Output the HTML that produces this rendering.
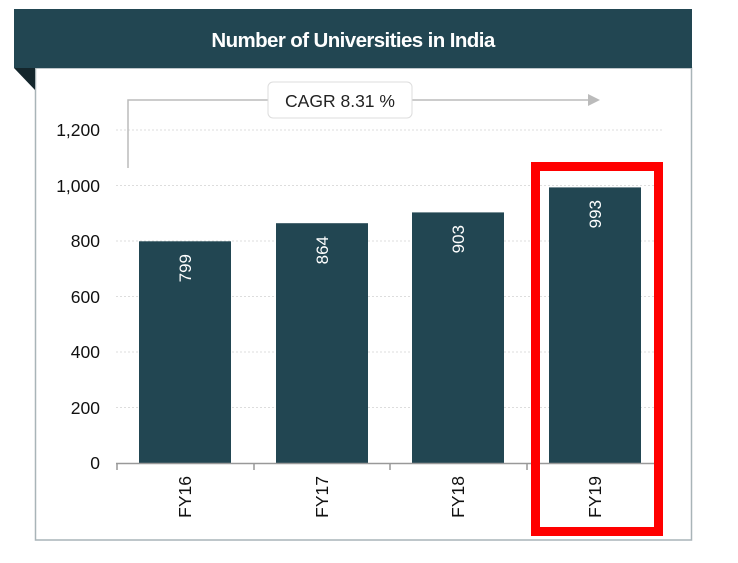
<!DOCTYPE html>
<html><head><style>
body{margin:0;background:#fff;width:738px;height:563px;overflow:hidden}
svg{display:block;font-family:"Liberation Sans",sans-serif}
</style></head><body>
<svg width="738" height="563" viewBox="0 0 738 563">
<rect x="35.5" y="68" width="656" height="472" fill="#fff" stroke="#a9b4b8" stroke-width="1.5"/>
<rect x="14" y="9" width="678" height="59" fill="#224652"/>
<polygon points="14,68 35,68 35,90" fill="#14262c"/>
<text x="353" y="47" fill="#fff" font-size="20.5" font-weight="bold" text-anchor="middle" letter-spacing="-0.6">Number of Universities in India</text>
<g stroke="#ddd" stroke-dasharray="2,2" stroke-width="1">
<line x1="116" y1="130" x2="662" y2="130"/><line x1="116" y1="185.5" x2="662" y2="185.5"/>
<line x1="116" y1="241" x2="662" y2="241"/><line x1="116" y1="296.5" x2="662" y2="296.5"/>
<line x1="116" y1="352" x2="662" y2="352"/><line x1="116" y1="407.5" x2="662" y2="407.5"/>
</g>
<g font-size="17.5" fill="#111" text-anchor="end">
<text x="100" y="136">1,200</text><text x="100" y="192">1,000</text><text x="100" y="247">800</text>
<text x="100" y="303">600</text><text x="100" y="358">400</text><text x="100" y="414">200</text><text x="100" y="469">0</text>
</g>
<polyline points="128,168 128,100 590,100" fill="none" stroke="#bbb" stroke-width="1.5"/>
<polygon points="588,94 600,100 588,106" fill="#bbb"/>
<rect x="268" y="82" width="144" height="36" rx="5" fill="#fff" stroke="#ddd"/>
<text x="340" y="107" font-size="17.5" text-anchor="middle" fill="#222">CAGR 8.31 %</text>
<g fill="#224652">
<rect x="139" y="241.3" width="92" height="221.7"/>
<rect x="276" y="223.2" width="92" height="239.8"/>
<rect x="412" y="212.4" width="92" height="250.6"/>
<rect x="549" y="187.4" width="92" height="275.6"/>
</g>
<g fill="#fff" font-size="17" text-anchor="end">
<text transform="translate(191,254) rotate(-90)">799</text>
<text transform="translate(328,236) rotate(-90)">864</text>
<text transform="translate(464,225) rotate(-90)">903</text>
<text transform="translate(601,200) rotate(-90)">993</text>
</g>
<g stroke="#999" stroke-width="1.5"><line x1="116" y1="463.5" x2="662" y2="463.5"/>
<line x1="117" y1="463" x2="117" y2="470"/><line x1="254" y1="463" x2="254" y2="470"/>
<line x1="390" y1="463" x2="390" y2="470"/><line x1="527" y1="463" x2="527" y2="470"/></g>
<g fill="#111" font-size="17.5" text-anchor="end">
<text transform="translate(191,476) rotate(-90)">FY16</text>
<text transform="translate(328,476) rotate(-90)">FY17</text>
<text transform="translate(464,476) rotate(-90)">FY18</text>
<text transform="translate(601,476) rotate(-90)">FY19</text>
</g>
<rect x="535.5" y="166.5" width="123" height="365" fill="none" stroke="#ff0000" stroke-width="9"/>
</svg>
</body></html>
